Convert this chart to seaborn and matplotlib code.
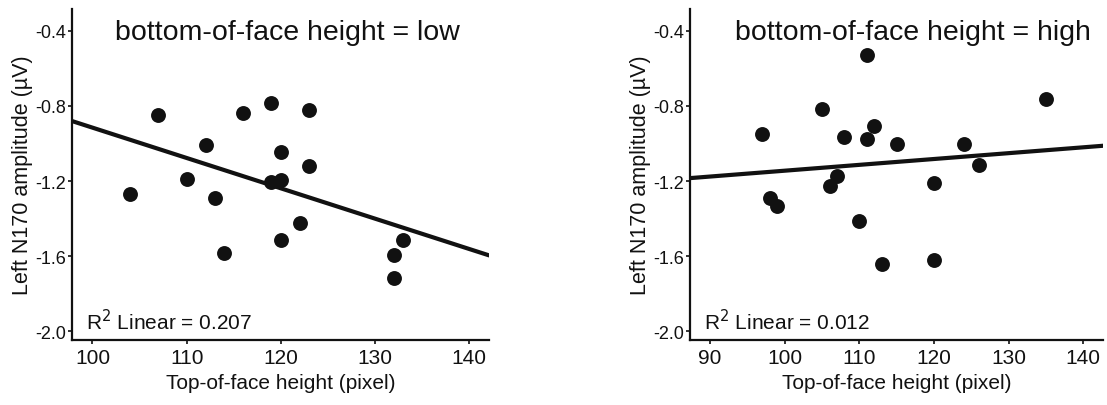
import matplotlib
matplotlib.use("Agg")
import matplotlib.pyplot as plt
import seaborn as sns
import pandas as pd

# Data
low_x = [104, 107, 112, 110, 113, 114, 116, 119, 120, 119, 120, 123, 123, 122, 120, 133, 132, 132]
low_y = [-1.269, -0.848, -1.006, -1.189, -1.291, -1.586, -0.837, -0.786, -1.047, -1.204,
         -1.195, -0.820, -1.118, -1.426, -1.515, -1.513, -1.595, -1.717]
high_x = [97, 98, 99, 105, 106, 107, 108, 110, 111, 111, 112, 113, 115, 120, 120, 124, 126, 135]
high_y = [-0.951, -1.292, -1.333, -0.816, -1.225, -1.172, -0.964, -1.413, -0.528, -0.976,
          -0.905, -1.644, -1.003, -1.209, -1.621, -1.003, -1.115, -0.764]

titles = ["bottom-of-face height = low", "bottom-of-face height = high"]
r2_labels = ["R$^2$ Linear = 0.207", "R$^2$ Linear = 0.012"]
y_ticks = [-0.4, -0.8, -1.2, -1.6, -2.0]
low_xticks = [100, 110, 120, 130, 140]
high_xticks = [90, 100, 110, 120, 130, 140]
xlabel = "Top-of-face height (pixel)"
ylabel = "Left N170 amplitude (\u00b5V)"

sns.set_style("ticks")
plt.rcParams['font.family'] = ['Liberation Sans', 'DejaVu Sans']

fig = plt.figure(figsize=(11.07, 4.06), dpi=100)
ax1 = fig.add_axes([0.0648, 0.1608, 0.377, 0.8146])
ax2 = fig.add_axes([0.6233, 0.1608, 0.3734, 0.8146])

panels = [
    (ax1, low_x, low_y, (97.8, 142.1), low_xticks, titles[0], r2_labels[0], 0.516),
    (ax2, high_x, high_y, (87.3, 142.7), high_xticks, titles[1], r2_labels[1], 0.54),
]

ink = "#111111"
for ax, xs, ys, xlim, xt, title, r2, tx in panels:
    df = pd.DataFrame({"x": xs, "y": ys})
    ax.set_xlim(*xlim)
    ax.set_ylim(-2.046, -0.283)
    sns.regplot(data=df, x="x", y="y", ax=ax, ci=None, truncate=False,
                scatter_kws=dict(s=115, color=ink, edgecolor=ink, linewidths=0, alpha=1),
                line_kws=dict(color=ink, lw=3.0))
    ax.set_xticks(xt)
    ax.set_yticks(y_ticks)
    ax.set_yticklabels([f"{v:.1f}" for v in y_ticks])
    ax.tick_params(axis='x', labelsize=15, length=3, width=1.2, pad=3, colors=ink)
    ax.tick_params(axis='y', labelsize=13, length=3, width=1.2, pad=1, colors=ink)
    for s in ["top", "right"]:
        ax.spines[s].set_visible(False)
    for s in ["left", "bottom"]:
        ax.spines[s].set_linewidth(1.6)
        ax.spines[s].set_color(ink)
    ax.set_xlabel(xlabel, fontsize=15, color=ink, labelpad=4)
    ax.set_ylabel(ylabel, fontsize=15.5, color=ink, labelpad=2)
    ax.text(tx, 0.93, title, transform=ax.transAxes, ha="center", va="center",
            fontsize=20.5, color=ink)
    ax.text(0.035, 0.02, r2, transform=ax.transAxes, ha="left", va="bottom",
            fontsize=15, color=ink)

fig.savefig("out.png", dpi=100)
